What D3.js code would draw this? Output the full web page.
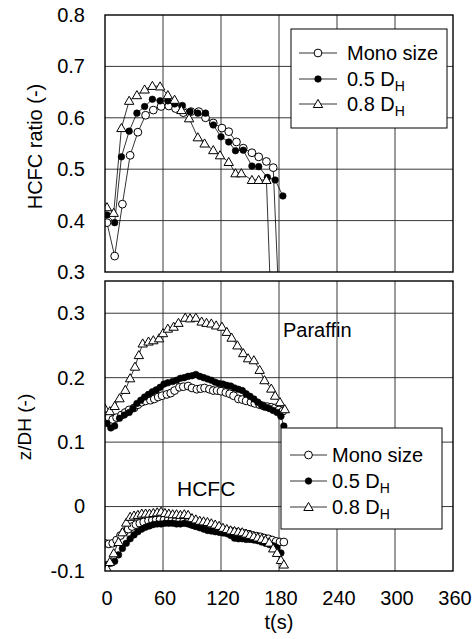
<!DOCTYPE html>
<html>
<head>
<meta charset="utf-8">
<script src="https://cdn.jsdelivr.net/npm/d3@7"></script>
<style>
  body { margin: 0; background: #fff; }
  text { font-family: "Liberation Sans", Arial, Helvetica, sans-serif; fill: #000; }
</style>
</head>
<body>
<svg id="chart" width="473" height="639"></svg>
<script>
// ---- Upper panel: HCFC ratio vs time ----
const topMonoT   = [2, 10, 18, 26, 34, 42, 50, 58, 66, 73, 81, 89, 97, 104, 112, 121, 128, 136, 143, 152, 159, 167, 174, 182];
const topMonoV   = [0.396, 0.331, 0.432, 0.527, 0.572, 0.605, 0.615, 0.622, 0.623, 0.618, 0.610, 0.612, 0.612, 0.600, 0.590, 0.580, 0.573, 0.553, 0.541, 0.532, 0.524, 0.515, 0.503, 0.15];
const topHalfT   = [2, 10, 17, 25, 33, 41, 49, 57, 65, 72, 80, 88, 96, 104, 112, 120, 128, 135, 143, 152, 159, 168, 176, 184];
const topHalfV   = [0.411, 0.396, 0.524, 0.574, 0.609, 0.622, 0.636, 0.633, 0.633, 0.627, 0.624, 0.612, 0.609, 0.609, 0.586, 0.563, 0.553, 0.536, 0.537, 0.506, 0.505, 0.484, 0.479, 0.448];
const topEightT  = [2, 9, 17, 25, 33, 41, 49, 57, 65, 72, 79, 87, 96, 103, 112, 119, 128, 135, 141, 152, 159, 167, 175];
const topEightV  = [0.426, 0.415, 0.580, 0.633, 0.644, 0.655, 0.662, 0.661, 0.644, 0.635, 0.615, 0.599, 0.562, 0.550, 0.537, 0.527, 0.514, 0.492, 0.492, 0.479, 0.479, 0.479, 0.06];

// ---- Lower panel: interface height z/DH, paraffin side ----
const parMonoT  = [0, 4, 8, 12, 17, 21, 25, 30, 34, 38, 42, 47, 51, 55, 59, 64, 68, 72, 77, 81, 86, 90, 95, 99, 103, 108, 112, 116, 120, 125, 129, 133, 138, 142, 146, 151, 155, 160, 164, 168, 172, 176, 180, 184];
const parMonoV  = [0.142, 0.138, 0.135, 0.138, 0.142, 0.146, 0.150, 0.153, 0.158, 0.162, 0.164, 0.165, 0.167, 0.170, 0.172, 0.174, 0.176, 0.180, 0.185, 0.186, 0.187, 0.184, 0.182, 0.183, 0.184, 0.182, 0.180, 0.180, 0.179, 0.177, 0.175, 0.172, 0.167, 0.166, 0.164, 0.162, 0.160, 0.158, 0.156, 0.155, 0.154, 0.153, 0.150, 0.148];
const parHalfT  = [2, 6, 10, 15, 20, 25, 29, 33, 37, 41, 45, 49, 53, 57, 61, 65, 70, 74, 78, 82, 86, 90, 94, 98, 102, 106, 110, 114, 118, 122, 126, 130, 134, 138, 142, 146, 150, 154, 158, 162, 166, 170, 174, 178, 182, 185];
const parHalfV  = [0.129, 0.122, 0.125, 0.137, 0.142, 0.146, 0.152, 0.160, 0.165, 0.170, 0.174, 0.178, 0.181, 0.185, 0.190, 0.192, 0.194, 0.196, 0.199, 0.200, 0.202, 0.203, 0.205, 0.202, 0.200, 0.198, 0.196, 0.193, 0.191, 0.190, 0.188, 0.187, 0.184, 0.182, 0.180, 0.175, 0.171, 0.167, 0.162, 0.157, 0.154, 0.152, 0.149, 0.146, 0.140, 0.125];
const parEightT = [0, 5, 10, 15, 21, 26, 31, 35, 39, 45, 50, 56, 60, 65, 71, 76, 83, 88, 94, 100, 105, 110, 115, 121, 126, 131, 137, 143, 148, 154, 160, 165, 172, 176, 181, 186];
const parEightV = [0.152, 0.148, 0.156, 0.168, 0.181, 0.199, 0.217, 0.235, 0.253, 0.256, 0.258, 0.261, 0.269, 0.276, 0.279, 0.285, 0.293, 0.292, 0.293, 0.287, 0.285, 0.284, 0.281, 0.279, 0.271, 0.262, 0.250, 0.238, 0.230, 0.227, 0.212, 0.196, 0.183, 0.172, 0.162, 0.151];

// ---- Lower panel: interface height z/DH, HCFC side ----
const hcMonoT  = [0, 4, 8, 12, 16, 20, 24, 28, 32, 36, 40, 45, 49, 53, 57, 61, 65, 69, 73, 77, 81, 85, 89, 93, 97, 101, 105, 109, 113, 117, 121, 125, 129, 133, 137, 141, 145, 149, 153, 157, 161, 165, 169, 173, 177, 181, 185];
const hcMonoV  = [-0.057, -0.058, -0.057, -0.052, -0.045, -0.039, -0.035, -0.031, -0.028, -0.026, -0.024, -0.022, -0.021, -0.020, -0.020, -0.021, -0.022, -0.022, -0.023, -0.023, -0.024, -0.025, -0.027, -0.029, -0.030, -0.031, -0.032, -0.033, -0.034, -0.035, -0.036, -0.037, -0.038, -0.039, -0.040, -0.041, -0.042, -0.043, -0.045, -0.046, -0.047, -0.049, -0.050, -0.052, -0.054, -0.055, -0.055];
const hcHalfT  = [2, 6, 10, 14, 18, 22, 26, 30, 34, 38, 42, 46, 50, 54, 58, 62, 66, 70, 74, 78, 82, 86, 90, 94, 98, 102, 106, 110, 114, 118, 122, 126, 130, 134, 138, 142, 146, 150, 154, 158, 162, 166, 170, 174, 178, 182];
const hcHalfV  = [-0.090, -0.088, -0.085, -0.075, -0.065, -0.057, -0.050, -0.044, -0.039, -0.035, -0.032, -0.030, -0.028, -0.027, -0.027, -0.026, -0.026, -0.026, -0.027, -0.027, -0.026, -0.027, -0.029, -0.031, -0.033, -0.035, -0.037, -0.038, -0.039, -0.040, -0.041, -0.042, -0.045, -0.049, -0.050, -0.050, -0.051, -0.051, -0.052, -0.053, -0.055, -0.057, -0.059, -0.061, -0.064, -0.072];
const hcEightT = [2, 5, 9, 14, 18, 22, 26, 30, 34, 38, 42, 46, 50, 54, 58, 62, 66, 70, 74, 78, 82, 86, 90, 94, 98, 102, 106, 110, 114, 118, 122, 126, 130, 134, 138, 142, 146, 150, 154, 158, 162, 166, 170, 174, 178, 182, 185];
const hcEightV = [-0.096, -0.086, -0.0725, -0.055, -0.040, -0.025, -0.016, -0.014, -0.013, -0.011, -0.011, -0.011, -0.010, -0.009, -0.008, -0.010, -0.011, -0.012, -0.012, -0.013, -0.012, -0.013, -0.018, -0.020, -0.022, -0.023, -0.024, -0.026, -0.028, -0.030, -0.033, -0.035, -0.037, -0.038, -0.039, -0.040, -0.042, -0.044, -0.046, -0.048, -0.050, -0.052, -0.056, -0.065, -0.072, -0.083, -0.090];

// Axis ticks and labels
const xTicks      = [0, 60, 120, 180, 240, 300, 360];
const topYTicks   = [0.3, 0.4, 0.5, 0.6, 0.7, 0.8];
const botYTicks   = [-0.1, 0, 0.1, 0.2, 0.3];
const seriesNames = ["Mono size", "0.5 D", "0.8 D"];
const seriesKinds = ["open", "filled", "triangle"];

const svg = d3.select("#chart");
const x = d3.scaleLinear().domain([0, 360]).range([105, 453]);
const yTop = d3.scaleLinear().domain([0.3, 0.8]).range([272, 15]);
const yBot = d3.scaleLinear().domain([-0.1, 0.35]).range([571, 281]);

const zip = (t, v) => t.map((d, i) => ({ t: d, v: v[i] }));

function marker(g, kind, cx, cy) {
  if (kind === "open") {
    g.append("circle").attr("cx", cx).attr("cy", cy).attr("r", 3.9)
      .attr("fill", "#fff").attr("stroke", "#000").attr("stroke-width", 1);
  } else if (kind === "filled") {
    g.append("circle").attr("cx", cx).attr("cy", cy).attr("r", 3.3)
      .attr("fill", "#000").attr("stroke", "#000").attr("stroke-width", 0.6);
  } else {
    const s = d3.symbol().type(d3.symbolTriangle).size(38);
    g.append("path").attr("d", s()).attr("transform", `translate(${cx},${cy + 0.8})`)
      .attr("fill", "#fff").attr("stroke", "#000").attr("stroke-width", 1);
  }
}

function panel(id, y, yTicks, groups, labelFmt) {
  const [y0, y1] = y.range();
  const g = svg.append("g");
  g.append("clipPath").attr("id", id).append("rect")
    .attr("x", x(0)).attr("y", y1).attr("width", x(360) - x(0)).attr("height", y0 - y1);

  // grid
  g.selectAll(".vg").data(xTicks.slice(1, -1)).join("line")
    .attr("x1", d => x(d)).attr("x2", d => x(d)).attr("y1", y0).attr("y2", y1)
    .attr("stroke", "#222").attr("stroke-width", 0.9);
  g.selectAll(".hg").data(yTicks.filter(d => y(d) < y0 - 1 && y(d) > y1 + 1)).join("line")
    .attr("x1", x(0)).attr("x2", x(360)).attr("y1", d => y(d)).attr("y2", d => y(d))
    .attr("stroke", "#222").attr("stroke-width", 0.9);

  // y tick labels
  const ax = d3.axisLeft(y).tickValues(yTicks).tickSize(0).tickPadding(20).tickFormat(labelFmt);
  const axg = g.append("g").attr("transform", `translate(${x(0)},0)`).call(ax);
  axg.select(".domain").remove();
  axg.selectAll("text").style("font-size", "20px").attr("font-family", null)
    .style("font-family", "'Liberation Sans', Arial, sans-serif");

  // data
  const plot = g.append("g").attr("clip-path", `url(#${id})`);
  const line = d3.line().x(d => x(d.t)).y(d => y(d.v));
  groups.forEach(s => {
    plot.append("path").datum(s.data).attr("d", line)
      .attr("fill", "none").attr("stroke", "#000").attr("stroke-width", 0.8);
  });
  groups.forEach(s => {
    const mg = plot.append("g");
    s.data.forEach(d => marker(mg, s.kind, x(d.t), y(d.v)));
  });

  // frame
  g.append("rect").attr("x", x(0)).attr("y", y1).attr("width", x(360) - x(0)).attr("height", y0 - y1)
    .attr("fill", "none").attr("stroke", "#000").attr("stroke-width", 1.4);
  return g;
}

panel("clipTop", yTop, topYTicks, [
  { kind: "open", data: zip(topMonoT, topMonoV) },
  { kind: "filled", data: zip(topHalfT, topHalfV) },
  { kind: "triangle", data: zip(topEightT, topEightV) }
], d3.format(".1f"));

panel("clipBot", yBot, botYTicks, [
  { kind: "open", data: zip(parMonoT, parMonoV) },
  { kind: "filled", data: zip(parHalfT, parHalfV) },
  { kind: "triangle", data: zip(parEightT, parEightV) },
  { kind: "open", data: zip(hcMonoT, hcMonoV) },
  { kind: "filled", data: zip(hcHalfT, hcHalfV) },
  { kind: "triangle", data: zip(hcEightT, hcEightV) }
], d => d === 0 ? "0" : d3.format(".1f")(d).replace("−", "-"));

// x tick labels
svg.append("g").selectAll("text").data(xTicks).join("text")
  .attr("x", d => x(d) + 2).attr("y", 605).attr("text-anchor", "middle")
  .style("font-size", "20px").text(d => d);
svg.append("text").attr("x", x(180)).attr("y", 629).attr("text-anchor", "middle")
  .style("font-size", "20px").text("t(s)");

// y titles
svg.append("text").attr("transform", `translate(35,${(yTop(0.3) + yTop(0.8)) / 2 + 3}) rotate(-90)`)
  .attr("text-anchor", "middle").attr("dominant-baseline", "central")
  .style("font-size", "20px").text("HCFC ratio (-)");
svg.append("text").attr("transform", `translate(24,427) rotate(-90)`)
  .attr("text-anchor", "middle").attr("dominant-baseline", "central")
  .style("font-size", "19px").text("z/DH (-)");

// annotations
svg.append("text").attr("x", 283).attr("y", 337).style("font-size", "20px").text("Paraffin");
svg.append("text").attr("x", 177).attr("y", 496).style("font-size", "21px").text("HCFC");

// legends
function legend(bx, by, bw, bh, lx0, lx1, tx, rows) {
  const g = svg.append("g");
  g.append("rect").attr("x", bx).attr("y", by).attr("width", bw).attr("height", bh)
    .attr("fill", "#fff").attr("stroke", "#000").attr("stroke-width", 1);
  seriesNames.forEach((name, i) => {
    const ry = rows[i];
    g.append("line").attr("x1", lx0).attr("x2", lx1).attr("y1", ry).attr("y2", ry)
      .attr("stroke", "#000").attr("stroke-width", 0.8);
    marker(g, seriesKinds[i], (lx0 + lx1) / 2, ry);
    const t = g.append("text").attr("x", tx).attr("y", ry + 7).style("font-size", "20px");
    t.append("tspan").text(name);
    if (i > 0) t.append("tspan").attr("dy", 5).style("font-size", "14px").text("H");
  });
}
legend(291, 29, 156, 99, 299, 337, 347, [53, 79, 104]);
legend(281, 428, 161, 101, 290, 327, 332, [455, 481, 507]);
</script>
</body>
</html>
